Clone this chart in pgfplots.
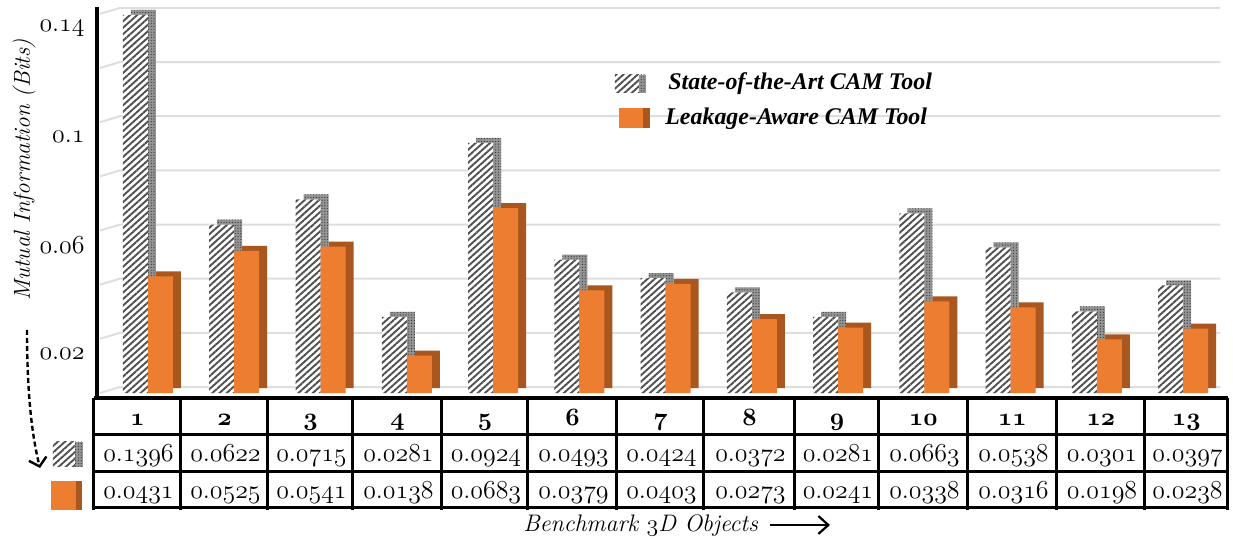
\documentclass[border=0pt]{standalone}
\usepackage{pgfplots}
\pgfplotsset{compat=1.18}
\usepackage{pgfplotstable}
\usepackage{fontspec}
\usetikzlibrary{patterns.meta,arrows.meta}
\newfontfamily\legendfont{Liberation Serif}
\definecolor{barorange}{HTML}{ED7D31}
\definecolor{barorangeside}{HTML}{A9561F}
\definecolor{hatchgray}{HTML}{505050}
\definecolor{gridgray}{HTML}{DEDEDE}
% old-style figures taken from the math italic font, scalable to any size
\DeclareFontFamily{OML}{osf}{\skewchar\font=127}
\DeclareFontShape{OML}{osf}{m}{it}{<-> cmmi12}{}
\DeclareFontShape{OML}{osf}{b}{it}{<-> cmmib10}{}
\newcommand\osf[1]{{\usefont{OML}{osf}{m}{it}#1}}
\newcommand\osfb[1]{{\usefont{OML}{osf}{b}{it}#1}}
\newcommand\num[2]{\osf{#1}.\osf{#2}}

% mutual information per benchmark object
\pgfplotstableread{
n s l
1 0.1396 0.0431
2 0.0622 0.0525
3 0.0715 0.0541
4 0.0281 0.0138
5 0.0924 0.0683
6 0.0493 0.0379
7 0.0424 0.0403
8 0.0372 0.0273
9 0.0281 0.0241
10 0.0663 0.0338
11 0.0538 0.0316
12 0.0301 0.0198
13 0.0397 0.0238
}\mi

\tikzset{
  hatchfront/.style={fill=white, postaction={pattern color=hatchgray, pattern={Lines[angle=42,distance=2.4bp,line width=0.95bp]}}},
  hatchside/.style={fill=black!42, postaction={pattern color=black!80, pattern={Dots[distance=1.4bp,radius=0.3bp]}}},
}

\begin{document}
\begin{tikzpicture}
\path[use as bounding box] (0,0) rectangle (616.5bp,-269.5bp);
\begin{axis}[
  at={(48.5bp,-198.5bp)}, anchor=south west,
  scale only axis, width=565.5bp, height=195bp,
  xmin=0.409, xmax=13.52, ymin=-0.001477, ymax=0.142541,
  axis line style={draw=none},
  xtick=\empty,
  ytick={0.02,0.06,0.1,0.14},
  yticklabels={\num{0}{02},\num{0}{06},\num{0}{1},\num{0}{14}},
  major tick length=0pt,
  yticklabel style={font=\fontsize{13}{15}\selectfont, inner sep=0pt, anchor=east, xshift=-6bp, yshift=-7.5bp},
  clip=false,
]
% floor and wall grid
\pgfplotsinvokeforeach{0,0.02,0.04,0.06,0.08,0.1,0.12,0.14}{
  \draw[gridgray, line width=1bp] ([xshift=1.5bp]axis cs:0.409,#1) -- ([xshift=11.5bp,yshift=3bp]axis cs:0.409,#1) -- ([yshift=3bp]axis cs:13.43,#1);
}
% state-of-the-art tool: depth then front
\addplot[ybar, bar width=12.5bp, bar shift=-2.25bp, yshift=2.5bp, draw=none, hatchside] table[x=n,y=s]{\mi};
\addplot[ybar, bar width=12.5bp, bar shift=-6.25bp, draw=none, hatchfront] table[x=n,y=s]{\mi};
% leakage-aware tool: depth then front
\addplot[ybar, bar width=12.5bp, bar shift=10.25bp, yshift=2.5bp, draw=none, fill=barorangeside] table[x=n,y=l]{\mi};
\addplot[ybar, bar width=12.5bp, bar shift=6.25bp, draw=none, fill=barorange] table[x=n,y=l]{\mi};
\end{axis}

\begin{scope}[x=0.5bp,y=-0.5bp]
% axis lines
\draw[line width=2bp] (97,7) -- (97,398);
\draw[line width=2.2bp] (94,398) -- (1228,398);
% legend
\fill[hatchfront] (615,75) rectangle (639,93);
\fill[hatchside] (639,75) rectangle (646,93);
\node[anchor=west, inner sep=0pt, font=\fontsize{12}{14}\selectfont\legendfont\bfseries\itshape] at (668,84) {State-of-the-Art CAM Tool};
\fill[barorange] (619,108) rectangle (643,128);
\fill[barorangeside] (643,108) rectangle (650,128);
\node[anchor=west, inner sep=0pt, font=\fontsize{12}{14}\selectfont\legendfont\bfseries\itshape] at (665,119) {Leakage-Aware CAM Tool};
% data table
\foreach \yy in {435,472,508} \draw[line width=1.5bp] (94,\yy) -- (1228,\yy);
\foreach \xx in {94,181,268,353,442,528,617,704,795,879,968,1057,1145,1228}
  \draw[line width=1.5bp] (\xx,398) -- (\xx,510);
\foreach \xl/\xr/\k/\s/\l in {94/181/1/1396/0431, 181/268/2/0622/0525, 268/353/3/0715/0541,
  353/442/4/0281/0138, 442/528/5/0924/0683, 528/617/6/0493/0379, 617/704/7/0424/0403,
  704/795/8/0372/0273, 795/879/9/0281/0241, 879/968/10/0663/0338, 968/1057/11/0538/0316,
  1057/1145/12/0301/0198, 1145/1228/13/0397/0238}{
  \node[anchor=base, inner sep=0pt, font=\fontsize{12.5}{14}\selectfont] at ({(\xl+\xr)/2},426) {\osfb{\k}};
  \node[anchor=base, inner sep=0pt, font=\fontsize{13}{15}\selectfont] at ({(\xl+\xr)/2+1},462) {\num{0}{\s}};
  \node[anchor=base, inner sep=0pt, font=\fontsize{13}{15}\selectfont] at ({(\xl+\xr)/2+1},499) {\num{0}{\l}};
}
% row keys
\fill[hatchfront] (53,442) rectangle (75,467);
\fill[hatchside] (75,442) rectangle (83,467);
\fill[barorange] (51,481) rectangle (76,510);
\fill[barorangeside] (76,481) rectangle (82,510);
\draw[line width=1.2bp, dash pattern=on 2.5bp off 1.5bp, -{Straight Barb[length=4bp,width=9bp]}] (27,330) .. controls (27,400) and (33,440) .. (40,468);
% axis titles
\node[rotate=90, inner sep=0pt, font=\fontsize{11.6}{13}\selectfont\itshape] at (24,170) {Mutual Information (Bits)};
\node[anchor=base west, inner sep=0pt, font=\fontsize{12}{14}\selectfont\itshape] at (523,532) {Benchmark \osf{3}D Objects};
\draw[line width=1.1bp, -{Straight Barb[length=5bp,width=9bp]}] (770,525) -- (830,525);
\end{scope}
\end{tikzpicture}
\end{document}
